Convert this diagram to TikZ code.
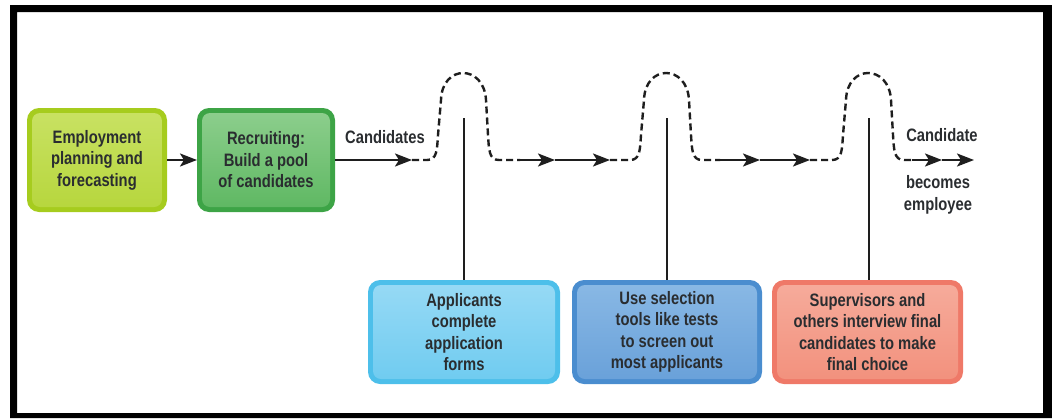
\documentclass[tikz,border=0pt]{standalone}
\usepackage{fontspec}
\setmainfont{Liberation Sans}[FakeStretch=0.82]
\usetikzlibrary{arrows.meta}
\definecolor{txt}{HTML}{2A2D30}
\definecolor{lnc}{HTML}{1E1E1E}
\definecolor{limeO}{HTML}{A6CC1E}
\definecolor{limeT}{HTML}{C9E264}
\definecolor{limeB}{HTML}{B6D63C}
\definecolor{grnO}{HTML}{3DA446}
\definecolor{grnT}{HTML}{8ECF8E}
\definecolor{grnB}{HTML}{5DB761}
\definecolor{cyO}{HTML}{4DBFEA}
\definecolor{cyT}{HTML}{98DAF5}
\definecolor{cyB}{HTML}{6ECBF0}
\definecolor{blO}{HTML}{4A8DCF}
\definecolor{blT}{HTML}{8AB9E5}
\definecolor{blB}{HTML}{68A0D9}
\definecolor{saO}{HTML}{EF7968}
\definecolor{saT}{HTML}{F6AC9C}
\definecolor{saB}{HTML}{F2907C}
\tikzset{
  pbox/.style n args={3}{fill=#1, rounded corners=12pt, inner sep=0pt, outer sep=0pt,
    align=center, text=txt, font=\bfseries\fontsize{18}{21.5}\selectfont,
    path picture={\shade[top color=#2, bottom color=#3, rounded corners=8pt]
      ([shift={(5pt,-5pt)}]path picture bounding box.north west) rectangle
      ([shift={(-5pt,5pt)}]path picture bounding box.south east);}},
  lbl/.style={text=txt, font=\bfseries\fontsize{18}{22}\selectfont, align=center, inner sep=0pt},
  solidarrow/.style={draw=lnc, line width=2.4pt, -{Stealth[length=17pt,width=13pt,inset=4pt]}},
  hump/.style={draw=lnc, line width=2.4pt, dash pattern=on 7pt off 4pt},
  stem/.style={draw=lnc, line width=1.6pt}
}
\begin{document}
\begin{tikzpicture}[x=1pt,y=-1pt]
\useasboundingbox (0,0) rectangle (1052,418);
% frame
\fill[black, even odd rule] (10,5) rectangle (1052,418) (17,12) rectangle (1043,413);

% top boxes
\node[pbox={limeO}{limeT}{limeB}, minimum width=140pt, minimum height=104pt] (b1) at (97,160)
  {Employment\\planning and\\forecasting};
\node[pbox={grnO}{grnT}{grnB}, minimum width=138pt, minimum height=104pt] (b2) at (266,160)
  {Recruiting:\\Build a pool\\of candidates};

% bottom boxes
\node[pbox={cyO}{cyT}{cyB}, minimum width=192pt, minimum height=104pt] (b3) at (464,332)
  {Applicants\\complete\\application\\forms};
\node[pbox={blO}{blT}{blB}, minimum width=190pt, minimum height=104pt] (b4) at (667,332)
  {Use selection\\tools like tests\\to screen out\\most applicants};
\node[pbox={saO}{saT}{saB}, minimum width=191pt, minimum height=104pt] (b5) at (867.5,332)
  {Supervisors and\\others interview final\\candidates to make\\final choice};

% labels
\node[lbl] (lc) at (385,137) {Candidates};
\node[lbl] (lc2) at (942,135) {Candidate};
\node[lbl] (lb) at (938,195) {becomes\\employee};

% coordinates on the main line
\coordinate (a1) at (412,160);
\coordinate (a2) at (520,160);
\coordinate (a3) at (555,160);
\coordinate (a4) at (610,160);
\coordinate (a5) at (720,160);
\coordinate (a6) at (760,160);
\coordinate (a7) at (810,160);
\coordinate (a8) at (912,160);
\coordinate (a9) at (942,160);
\coordinate (a10) at (974,160);
\coordinate (v1) at (464,118);
\coordinate (v2) at (667,118);
\coordinate (v3) at (869,118);

% connectors
\draw[solidarrow] (b1) -- (b2);
\draw[solidarrow] (b2.east) -- (a1);
\draw[hump] (a1) -- (427,160) .. controls (437,160) and (437,150) .. (438,135) -- (441,100)
  .. controls (442,64) and (484,64) .. (486,100) -- (488,135)
  .. controls (489,150) and (489,160) .. (499,160) -- (a2);
\draw[solidarrow] (a2) -- (a3);
\draw[solidarrow] (a3) -- (a4);
\draw[hump] (a4) -- (630,160) .. controls (640,160) and (640,150) .. (641,135) -- (644,100)
  .. controls (645,64) and (687,64) .. (689,100) -- (691,135)
  .. controls (692,150) and (692,160) .. (702,160) -- (a5);
\draw[solidarrow] (a5) -- (a6);
\draw[solidarrow] (a6) -- (a7);
\draw[hump] (a7) -- (832,160) .. controls (842,160) and (842,150) .. (843,135) -- (846,100)
  .. controls (847,64) and (889,64) .. (891,100) -- (893,135)
  .. controls (894,150) and (894,160) .. (904,160) -- (a8);
\draw[solidarrow] (a8) -- (a9);
\draw[solidarrow] (a9) -- (a10);

% stems
\draw[stem] (v1) -- (v1 |- b3.north);
\draw[stem] (v2) -- (v2 |- b4.north);
\draw[stem] (v3) -- (v3 |- b5.north);
\end{tikzpicture}
\end{document}
